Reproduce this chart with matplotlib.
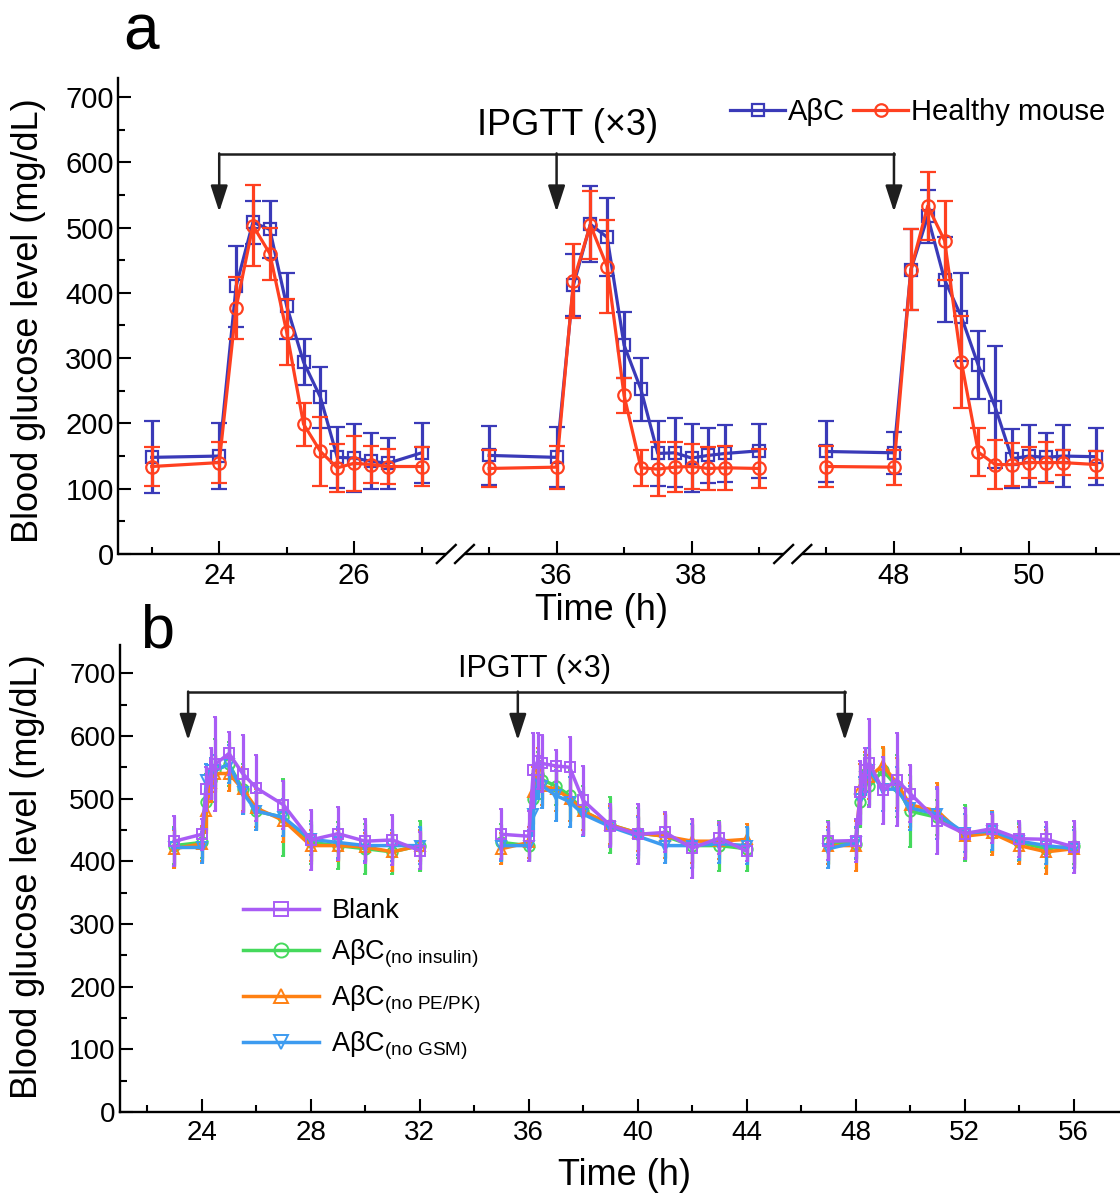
import numpy as np
import matplotlib
matplotlib.use('Agg')
import matplotlib.pyplot as plt
from matplotlib.ticker import MultipleLocator, FixedLocator

plt.rcParams['font.family'] = ['Liberation Sans', 'DejaVu Sans']
plt.rcParams['mathtext.fontset'] = 'custom'
plt.rcParams['mathtext.rm'] = 'Liberation Sans'
plt.rcParams['mathtext.it'] = 'Liberation Sans:italic'

# ---------------- panel a data (three IPGTT windows) ----------------
t_a = [23, 24, 24.25, 24.5, 24.75, 25, 25.25, 25.5, 25.75, 26, 26.25, 26.5, 27,
       35, 36, 36.25, 36.5, 36.75, 37, 37.25, 37.5, 37.75, 38, 38.25, 38.5, 39,
       47, 48, 48.25, 48.5, 48.75, 49, 49.25, 49.5, 49.75, 50, 50.25, 50.5, 51]
abc = [148, 150, 410, 508, 497, 380, 294, 240, 148, 147, 142, 139, 155,
       151, 148, 412, 505, 485, 320, 252, 154, 155, 147, 151, 154, 158,
       157, 155, 435, 517, 420, 363, 289, 225, 146, 150, 148, 150, 149]
abc_err = [55, 50, 62, 33, 43, 50, 35, 47, 47, 52, 43, 39, 46,
           45, 46, 48, 58, 60, 50, 48, 50, 53, 52, 42, 44, 41,
           47, 32, 62, 40, 65, 67, 52, 93, 45, 48, 37, 48, 44]
healthy = [134, 140, 377, 503, 460, 340, 199, 157, 132, 139, 137, 134, 134,
           131, 133, 418, 504, 440, 243, 132, 130, 133, 134, 131, 132, 131,
           134, 133, 435, 533, 480, 294, 156, 137, 137, 140, 140, 140, 137]
healthy_err = [30, 32, 47, 62, 40, 50, 33, 53, 37, 42, 29, 27, 30,
               28, 33, 57, 52, 71, 27, 28, 41, 38, 35, 33, 34, 30,
               31, 27, 62, 52, 60, 70, 37, 38, 33, 24, 32, 19, 20]
ipgtt_a = [24, 36, 48]
ticks_a = [24, 26, 36, 38, 48, 50]
minor_a = [23, 25, 27, 35, 37, 39, 47, 49, 51]

# ---------------- panel b data ----------------
t_b = [23, 24, 24.17, 24.33, 24.5, 25, 25.5, 26, 27, 28, 29, 30, 31, 32,
       35, 36, 36.17, 36.33, 36.5, 37, 37.5, 38, 39, 40, 41, 42, 43, 44,
       47, 48, 48.17, 48.33, 48.5, 49, 49.5, 50, 51, 52, 53, 54, 55, 56]
blank = [432, 443, 515, 540, 555, 572, 540, 517, 490, 434, 444, 432, 434, 417,
         443, 440, 545, 560, 556, 552, 550, 497, 457, 443, 446, 421, 437, 416,
         432, 433, 510, 545, 557, 513, 530, 508, 465, 444, 452, 436, 435, 423]
blank_err = [40, 25, 35, 40, 75, 35, 61, 53, 38, 48, 42, 35, 40, 30,
             40, 40, 60, 45, 45, 25, 48, 55, 35, 48, 32, 47, 25, 15,
             30, 34, 50, 35, 70, 53, 74, 45, 53, 41, 23, 29, 27, 42]
no_insulin = [425, 430, 495, 530, 545, 555, 515, 480, 470, 430, 425, 420, 415, 425,
              430, 425, 500, 540, 530, 520, 505, 480, 458, 445, 440, 425, 425, 420,
              430, 428, 495, 540, 520, 545, 520, 480, 470, 445, 445, 430, 420, 425]
no_insulin_err = [30, 25, 45, 30, 50, 35, 40, 30, 62, 35, 38, 40, 35, 40,
                  30, 25, 40, 35, 30, 30, 40, 40, 45, 40, 35, 35, 40, 35,
                  35, 25, 40, 30, 30, 35, 50, 58, 28, 45, 30, 30, 30, 30]
no_pepk = [420, 428, 480, 525, 540, 540, 515, 485, 465, 425, 425, 423, 415, 425,
           420, 430, 510, 545, 520, 515, 500, 480, 458, 445, 440, 432, 432, 435,
           425, 425, 515, 540, 535, 553, 525, 490, 480, 440, 445, 425, 415, 420]
no_pepk_err = [30, 28, 35, 30, 30, 28, 35, 30, 35, 25, 25, 22, 30, 25,
               25, 25, 40, 35, 30, 35, 35, 30, 30, 28, 35, 35, 28, 25,
               30, 40, 40, 35, 35, 30, 40, 35, 45, 35, 35, 30, 35, 30]
no_gsm = [422, 422, 530, 545, 545, 555, 510, 480, 470, 435, 430, 425, 425, 425,
          425, 425, 475, 530, 520, 505, 495, 475, 455, 440, 425, 425, 428, 425,
          420, 430, 500, 535, 545, 515, 515, 485, 475, 445, 448, 432, 425, 420]
no_gsm_err = [30, 25, 25, 20, 25, 30, 35, 30, 30, 25, 25, 25, 25, 30,
              25, 25, 35, 30, 35, 40, 40, 35, 30, 30, 28, 35, 30, 30,
              30, 25, 35, 30, 35, 35, 35, 35, 40, 30, 30, 30, 30, 30]
ipgtt_b = [23.5, 35.6, 47.6]

BLUE, RED = '#3a3ab8', '#ff4020'
PURPLE, GREEN, ORANGE, LBLUE = '#a95cf5', '#45d95c', '#ff8012', '#3d9bf0'
DARK = '#1e1e1e'
HEAD = '-|>,head_length=0.8,head_width=0.26'


def squeeze(t):
    # collapse the broken time axis of panel a into one continuous scale
    t = np.asarray(t, dtype=float)
    return t - np.where(t < 30, 0, np.where(t < 45, 7, 14))


def segments(t):
    t = np.asarray(t, dtype=float)
    return np.split(np.arange(len(t)), np.where(np.diff(t) > 2)[0] + 1)


def style(ax, fs):
    for s in ['top', 'right']:
        ax.spines[s].set_visible(False)
    for s in ['left', 'bottom']:
        ax.spines[s].set_linewidth(1.7)
    ax.tick_params(which='both', direction='in', width=1.5, labelsize=fs)
    ax.tick_params(which='major', length=9.5)
    ax.tick_params(which='minor', length=5)
    ax.tick_params(axis='y', pad=3)
    ax.tick_params(axis='x', pad=6)
    ax.yaxis.set_major_locator(MultipleLocator(100))
    ax.yaxis.set_minor_locator(MultipleLocator(50))


fig = plt.figure(figsize=(11.2, 11.95), dpi=100)
ax_a = fig.add_axes([118 / 1120, 1 - 554 / 1195, 1 - 118 / 1120, (554 - 78) / 1195])
ax_b = fig.add_axes([120 / 1120, 1 - 1112 / 1195, 1 - 120 / 1120, (1112 - 645) / 1195])

# ---------------- panel a ----------------
xa = squeeze(t_a)
handles_a = []
for y, e, c, m, lab, z in [(abc, abc_err, BLUE, 's', 'AβC', 3),
                           (healthy, healthy_err, RED, 'o', 'Healthy mouse', 4)]:
    y, e = np.asarray(y), np.asarray(e)
    for k, idx in enumerate(segments(t_a)):
        h = ax_a.errorbar(xa[idx], y[idx], yerr=e[idx], color=c, marker=m, ms=9,
                          mfc='none', mec=c, mew=1.6, lw=2.3, elinewidth=2.3,
                          capsize=6, capthick=2.3, zorder=z)
        if k == 0:
            h[0].set_label(lab)
            handles_a.append(h[0])

style(ax_a, 21)
ax_a.set_ylim(0, 729)
ax_a.set_xlim(22.5, 37.35)
ax_a.xaxis.set_major_locator(FixedLocator(squeeze(ticks_a)))
ax_a.set_xticklabels([str(v) for v in ticks_a])
ax_a.xaxis.set_minor_locator(FixedLocator(squeeze(minor_a)))

# broken bottom axis with // marks
ax_a.spines['bottom'].set_visible(False)
tr = ax_a.get_xaxis_transform()
gap = 0.135
brk = [27.5, 32.5]
pieces = [(22.5, brk[0] - gap), (brk[0] + gap, brk[1] - gap), (brk[1] + gap, 37.35)]
for x0, x1 in pieces:
    ax_a.plot([x0, x1], [0, 0], color='black', lw=1.7, transform=tr, clip_on=False,
              solid_capstyle='butt')
for b in brk:
    for dx in (-0.135, 0.135):
        ax_a.plot([b + dx - 0.14, b + dx + 0.14], [-0.019, 0.019], color='black',
                  lw=1.7, transform=tr, clip_on=False)

# IPGTT bracket
xs = squeeze(ipgtt_a)
ax_a.plot([xs[0], xs[-1]], [612.7, 612.7], color=DARK, lw=1.8)
for x in xs:
    ax_a.annotate('', xy=(x, 524), xytext=(x, 613.5),
                  arrowprops=dict(arrowstyle=HEAD, mutation_scale=20, lw=1.8,
                                  color=DARK, shrinkA=0, shrinkB=0))
ax_a.text(squeeze([36])[0] + 0.17, 642, 'IPGTT (×3)', fontsize=26, ha='center',
          va='baseline')

ax_a.legend(handles=handles_a, ncol=2, loc='center right',
            bbox_to_anchor=(1.0, 0.928), frameon=False, fontsize=21,
            handlelength=1.9, handletextpad=0.1, columnspacing=0.25,
            borderaxespad=0.1)
ax_a.set_ylabel('Blood glucose level (mg/dL)', fontsize=26)
ax_a.yaxis.set_label_coords(-0.072, 0.49)
ax_a.set_xlabel('Time (h)', fontsize=26)
ax_a.xaxis.set_label_coords(0.483, -0.082)

# ---------------- panel b ----------------
xb = np.asarray(t_b, dtype=float)
series_b = [(no_insulin, no_insulin_err, GREEN, 'o', 'AβC$_{\\mathregular{(no\\ insulin)}}$', 3),
            (no_pepk, no_pepk_err, ORANGE, '^', 'AβC$_{\\mathregular{(no\\ PE/PK)}}$', 4),
            (no_gsm, no_gsm_err, LBLUE, 'v', 'AβC$_{\\mathregular{(no\\ GSM)}}$', 5),
            (blank, blank_err, PURPLE, 's', 'Blank', 6)]
handles_b = {}
for y, e, c, m, lab, z in series_b:
    y, e = np.asarray(y), np.asarray(e)
    for k, idx in enumerate(segments(t_b)):
        h = ax_b.errorbar(xb[idx], y[idx], yerr=e[idx], color=c, marker=m, ms=7.5,
                          mfc='none', mec=c, mew=1.4, lw=2.5, elinewidth=2.3,
                          capsize=1.5, capthick=3, zorder=z)
        if k == 0:
            h[0].set_label(lab)
            handles_b[lab] = h[0]

style(ax_b, 20)
ax_b.set_ylim(0, 745)
ax_b.set_xlim(21, 57.7)
ax_b.xaxis.set_major_locator(MultipleLocator(4))
ax_b.xaxis.set_minor_locator(MultipleLocator(2))

ax_b.plot([ipgtt_b[0], ipgtt_b[-1]], [670, 670], color=DARK, lw=1.8)
for x in ipgtt_b:
    ax_b.annotate('', xy=(x, 593), xytext=(x, 670.7),
                  arrowprops=dict(arrowstyle=HEAD, mutation_scale=20, lw=1.8,
                                  color=DARK, shrinkA=0, shrinkB=0))
ax_b.text(36.23, 694, 'IPGTT (×3)', fontsize=22, ha='center', va='baseline')

order = ['Blank', series_b[0][4], series_b[1][4], series_b[2][4]]
ax_b.legend(handles=[handles_b[k] for k in order], loc='center left',
            bbox_to_anchor=(0.099, 0.283), frameon=False, fontsize=19.5,
            handlelength=2.8, handletextpad=0.45, labelspacing=0.5,
            markerscale=1.35)
ax_b.set_ylabel('Blood glucose level (mg/dL)', fontsize=26)
ax_b.yaxis.set_label_coords(-0.075, 0.505)
ax_b.set_xlabel('Time (h)', fontsize=26)
ax_b.xaxis.set_label_coords(0.504, -0.098)

fig.text(123 / 1120, 1 - 50 / 1195, 'a', fontsize=46, va='baseline')
fig.text(140 / 1120, 1 - 648 / 1195, 'b', fontsize=44, va='baseline')

fig.savefig('out.png', dpi=100)
